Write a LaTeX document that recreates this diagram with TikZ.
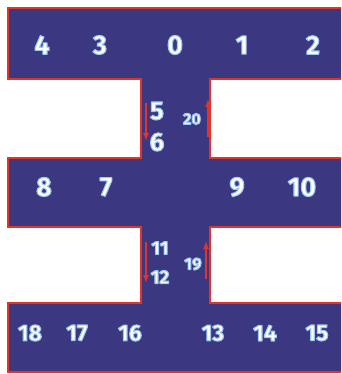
\documentclass[tikz,border=0pt]{standalone}
\usepackage{fontspec}
\setmainfont{Fira Sans}
\usetikzlibrary{arrows.meta}
\definecolor{hallblue}{HTML}{3B3780}
\definecolor{hallred}{HTML}{E3342C}
\tikzset{
  num/.style={text=white,font=\bfseries\fontsize{#1}{#1}\selectfont,inner sep=0pt},
  num/.default=27,
  flow/.style={draw=hallred,line width=1.4pt,-{Latex[length=8pt,width=6pt]}}
}
% white digits with a light blue rim
\newcommand{\glownum}[1]{%
  \special{pdf:literal direct 0.62 0.78 0.96 RG 1.1 w 1 j 2 Tr}#1%
  \special{pdf:literal direct 0 Tr}}
\begin{document}
\begin{tikzpicture}[x=1pt,y=-1pt]
\useasboundingbox (0,0) rectangle (341,374);
\clip (0,0) rectangle (341,374);
\fill[white] (0,0) rectangle (341,374);
% floor plan
\draw[fill=hallblue,draw=hallred,line width=2.2pt,line join=miter]
  (8,8) -- (346,8) -- (346,79) -- (210,79) -- (210,158) -- (346,158)
  -- (346,227) -- (210,227) -- (210,303) -- (346,303) -- (346,372)
  -- (8,372) -- (8,303) -- (141,303) -- (141,227) -- (8,227)
  -- (8,158) -- (141,158) -- (141,79) -- (8,79) -- cycle;
% top row
\node[num] (n4) at (42,45) {\glownum{4}};
\node[num] (n3) at (100,45) {\glownum{3}};
\node[num] (n0) at (175,45) {\glownum{0}};
\node[num] (n1) at (242,45) {\glownum{1}};
\node[num] (n2) at (313,45) {\glownum{2}};
% upper passage
\node[num=26] (n5) at (157,111) {\glownum{5}};
\node[num=26] (n6) at (157,142) {\glownum{6}};
\node[num=16] (n20) at (192,119) {\glownum{20}};
\coordinate (d1) at (146,103);
\coordinate (d2) at (146,141);
\coordinate (u1) at (208,137);
\coordinate (u2) at (208,99);
\draw[flow] (d1) -- (d2);
\draw[flow] (u1) -- (u2);
% middle row
\node[num] (n8) at (44,187) {\glownum{8}};
\node[num] (n7) at (106,187) {\glownum{7}};
\node[num] (n9) at (237,187) {\glownum{9}};
\node[num] (n10) at (302,187) {\glownum{10}};
% lower passage
\node[num=19] (n11) at (160,248) {\glownum{11}};
\node[num=19] (n12) at (160,277) {\glownum{12}};
\node[num=17] (n19) at (193,264) {\glownum{19}};
\coordinate (d3) at (146,242);
\coordinate (d4) at (146,283);
\coordinate (u3) at (206,279);
\coordinate (u4) at (206,241);
\draw[flow] (d3) -- (d4);
\draw[flow] (u3) -- (u4);
% bottom row
\node[num=23] (n18) at (30,333) {\glownum{18}};
\node[num=23] (n17) at (77,333) {\glownum{17}};
\node[num=23] (n16) at (130,333) {\glownum{16}};
\node[num=23] (n13) at (213,333) {\glownum{13}};
\node[num=23] (n14) at (265,333) {\glownum{14}};
\node[num=23] (n15) at (317,333) {\glownum{15}};
\end{tikzpicture}
\end{document}
